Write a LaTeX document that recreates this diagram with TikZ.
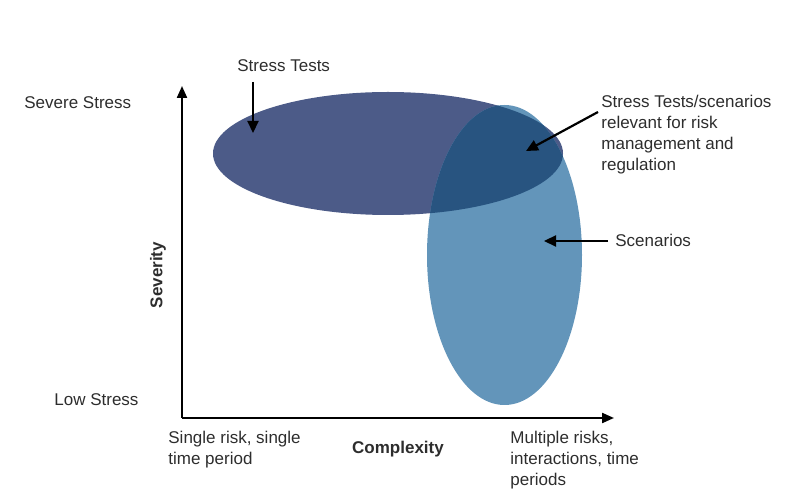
\documentclass[tikz,border=0pt]{standalone}
\usepackage{fontspec}
\setmainfont{Liberation Sans}
\usepackage{tikz}
\usetikzlibrary{arrows.meta}

\definecolor{stressblue}{RGB}{76,91,136}
\definecolor{scenblue}{RGB}{99,149,186}
\definecolor{bothblue}{RGB}{40,84,128}
\definecolor{labelgray}{RGB}{45,45,45}

\tikzset{
	lbl/.style={font=\fontsize{8.5}{10.5}\selectfont, text=labelgray, inner sep=0pt, align=left},
	axlbl/.style={font=\fontsize{8.5}{10.5}\selectfont\bfseries, text=labelgray, inner sep=0pt},
	axis/.style={line width=1.1pt, -{Triangle[length=6pt,width=5pt]}},
	pointer/.style={line width=1.1pt, -{Triangle[length=6pt,width=5.5pt]}}
}

\begin{document}
\begin{tikzpicture}[x=0.5pt,y=-0.5pt]
		\useasboundingbox (0,0) rectangle (804,496);

		% Ellipses
		\fill[stressblue] (388,153.5) ellipse [x radius=87.5pt, y radius=30.75pt];
		\fill[scenblue] (504.5,255) ellipse [x radius=38.75pt, y radius=75pt];
		\begin{scope}
			\clip (388,153.5) ellipse [x radius=87.5pt, y radius=30.75pt];
			\fill[bothblue] (504.5,255) ellipse [x radius=38.75pt, y radius=75pt];
		\end{scope}

		% Axes
		\coordinate (O) at (182,418);
		\coordinate (ytop) at (182,86);
		\coordinate (xend) at (614,418);
		\draw[axis] (O) -- (ytop);
		\draw[axis] (O) -- (xend);

		% Axis labels
		\node[lbl, anchor=west] (severe) at (24,103) {Severe Stress};
		\node[lbl, anchor=west] (low) at (54,400) {Low Stress};
		\node[axlbl, rotate=90] (severity) at (158,275) {Severity};
		\node[axlbl] (complexity) at (398,449) {Complexity};
		\node[lbl, anchor=north west] (single) at (168,431) {Single risk, single\\time period};
		\node[lbl, anchor=north west] (multiple) at (510,431) {Multiple risks,\\interactions, time\\periods};

		% Annotations
		\node[lbl, anchor=west] (sttext) at (237,66) {Stress Tests};
		\node[lbl, anchor=north west] (bothtext) at (601,95) {Stress Tests/scenarios\\relevant for risk\\management and\\regulation};
		\node[lbl, anchor=west] (sctext) at (615,240) {Scenarios};

		\coordinate (stfrom) at (253,82);
		\coordinate (stto) at (253,133);
		\coordinate (bothfrom) at (598,112);
		\coordinate (bothto) at (526,151);
		\coordinate (scfrom) at (608,241);
		\coordinate (scto) at (544,241);
		\draw[pointer] (stfrom) -- (stto);
		\draw[pointer] (bothfrom) -- (bothto);
		\draw[pointer] (scfrom) -- (scto);
	\end{tikzpicture}
\end{document}
